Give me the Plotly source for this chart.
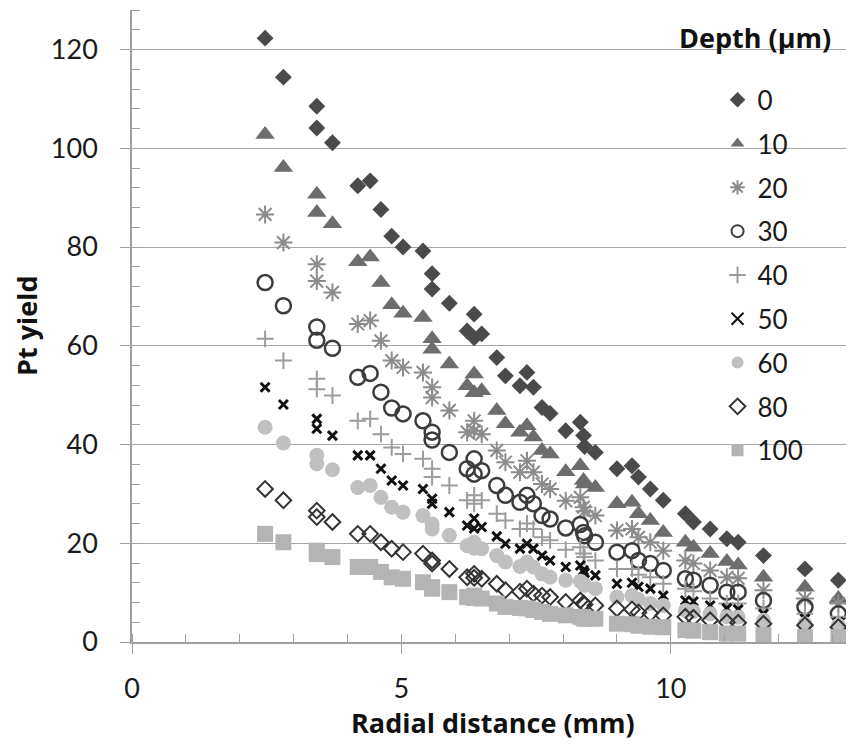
import plotly.graph_objects as go

# radial positions (mm), shared by every depth
radial_mm = [2.47, 2.81, 3.43, 3.43, 3.72, 4.19, 4.42, 4.62, 4.82, 5.03, 5.40, 5.57, 5.57, 5.89, 6.22,
             6.35, 6.35, 6.49, 6.77, 6.93, 7.20, 7.33, 7.45, 7.61, 7.76, 8.05, 8.32, 8.38, 8.40, 8.60,
             9.00, 9.28, 9.40, 9.62, 9.86, 10.27, 10.42, 10.73, 11.04, 11.25, 11.72, 12.49, 13.11]

depth_labels = ["0", "10", "20", "30", "40", "50", "60", "80", "100"]

yield_0 = [122.3, 114.4, 108.5, 104.1, 101.1, 92.4, 93.4, 87.6, 82.2, 80.0, 79.2, 74.6, 71.5, 68.6, 63.0,
           66.4, 61.6, 62.4, 57.6, 53.9, 51.9, 54.6, 51.6, 47.5, 46.3, 42.8, 44.5, 41.8, 39.6, 38.4,
           35.1, 35.7, 33.4, 31.0, 28.7, 26.0, 24.3, 22.9, 20.9, 20.2, 17.5, 14.8, 12.5]
yield_10 = [102.8, 96.1, 90.7, 87.0, 84.7, 77.0, 78.0, 72.8, 68.3, 66.6, 65.7, 61.4, 59.3, 56.3, 51.9,
            54.3, 50.5, 50.9, 46.9, 44.2, 42.5, 43.8, 41.5, 38.8, 38.1, 34.5, 35.7, 32.7, 32.0, 31.3,
            28.0, 28.3, 26.0, 24.6, 22.2, 20.2, 19.2, 17.9, 16.3, 15.6, 13.1, 11.1, 8.8]
yield_20 = [86.6, 80.9, 76.5, 73.1, 70.8, 64.4, 65.1, 61.0, 57.0, 55.6, 54.6, 51.6, 49.5, 46.9, 42.5,
            44.8, 42.8, 42.1, 38.8, 36.4, 34.4, 36.7, 34.4, 32.0, 31.0, 28.6, 29.3, 27.3, 26.5, 25.6,
            22.6, 22.9, 21.2, 20.2, 18.5, 16.5, 15.9, 14.5, 13.1, 12.9, 10.5, 8.8, 7.8]
yield_30 = [72.8, 68.1, 63.8, 61.1, 59.5, 53.6, 54.4, 50.6, 47.4, 46.2, 44.8, 42.5, 40.9, 38.4, 35.1,
            37.1, 34.0, 34.7, 31.7, 29.7, 28.3, 29.7, 28.0, 25.6, 24.9, 23.1, 23.8, 22.2, 21.5, 20.2,
            18.2, 18.5, 16.5, 15.9, 14.5, 12.8, 12.5, 11.5, 10.1, 10.1, 8.4, 7.1, 5.7]
yield_40 = [61.4, 57.0, 53.3, 51.2, 49.9, 44.8, 45.2, 42.1, 39.4, 38.1, 37.1, 35.1, 33.4, 31.7, 28.7,
            29.7, 28.0, 28.7, 26.0, 24.6, 22.9, 24.0, 22.9, 21.2, 20.6, 18.7, 19.2, 17.9, 17.2, 16.5,
            14.8, 14.8, 13.6, 13.1, 11.8, 10.8, 10.3, 8.8, 7.8, 7.8, 6.8, 5.7, 5.1]
yield_50 = [51.6, 48.1, 45.2, 43.2, 41.8, 37.8, 37.8, 35.1, 32.7, 31.7, 31.0, 29.0, 28.0, 26.3, 23.6,
            25.0, 23.0, 23.3, 21.4, 19.9, 18.9, 19.9, 18.9, 17.5, 16.5, 15.2, 15.5, 14.5, 14.0, 13.5,
            11.8, 12.0, 11.2, 10.8, 9.4, 8.4, 8.2, 7.4, 6.8, 6.6, 5.7, 4.7, 4.0]
yield_60 = [43.5, 40.3, 37.8, 36.1, 34.9, 31.3, 31.7, 29.3, 27.3, 26.3, 25.6, 23.9, 22.9, 21.6, 19.5,
            20.2, 19.0, 18.9, 17.5, 16.2, 15.3, 16.2, 15.2, 13.8, 13.1, 12.5, 12.3, 11.8, 11.5, 10.8,
            9.1, 9.4, 8.6, 7.8, 7.4, 6.4, 6.2, 5.7, 5.1, 5.0, 4.4, 3.7, 3.4]
yield_80 = [31.0, 28.7, 26.6, 25.3, 24.3, 21.9, 21.9, 20.2, 18.9, 18.2, 17.9, 16.5, 15.9, 14.8, 13.1,
            13.8, 13.0, 12.8, 11.8, 10.5, 10.2, 10.8, 9.8, 9.4, 9.1, 8.1, 8.4, 7.8, 7.6, 7.4,
            6.8, 6.6, 6.0, 5.8, 5.4, 5.1, 4.9, 4.4, 4.0, 3.9, 3.7, 3.4, 3.0]
yield_100 = [21.9, 20.2, 18.5, 17.8, 17.2, 15.2, 15.2, 14.2, 13.1, 12.8, 12.1, 11.1, 10.8, 10.1, 9.1,
             9.4, 8.9, 8.8, 7.8, 7.1, 6.9, 6.8, 6.5, 6.1, 5.7, 5.4, 5.1, 4.9, 4.7, 4.7,
             3.7, 3.6, 3.3, 3.1, 3.0, 2.4, 2.3, 2.0, 1.7, 1.7, 1.4, 1.0, 1.0]

series = [yield_0, yield_10, yield_20, yield_30, yield_40, yield_50, yield_60, yield_80, yield_100]

# marker look per depth: symbol, size, fill colour, outline colour, outline width
styles = [
    ("diamond", 13, "#4a4a4a", "#4a4a4a", 0),
    ("triangle-up", 17, "#6d6d6d", "#6d6d6d", 0),
    ("asterisk-open", 15, "#8c8c8c", "#8c8c8c", 2),
    ("circle-open", 15, "#3c3c3c", "#3c3c3c", 2.5),
    ("cross-thin-open", 12, "#9c9c9c", "#9c9c9c", 2),
    ("x-thin-open", 9, "#111111", "#111111", 3),
    ("circle", 15, "#c0c0c0", "#c0c0c0", 0),
    ("diamond-open", 12, "#333333", "#333333", 2),
    ("square", 16, "#b4b4b4", "#b4b4b4", 0),
]

fig = go.Figure()
for name, ys, (sym, size, fill, edge, lw) in zip(depth_labels, series, styles):
    fig.add_trace(go.Scatter(
        x=radial_mm, y=ys, mode="markers", name=name, legendgroup=name,
        marker=dict(symbol=sym, size=size, color=fill, line=dict(color=edge, width=lw))
    ))

axis_col = "#a0a0a0"
title_font = dict(family="Open Sans", size=27, color="#111111")
# the page body adds an 8px offset, so margins are shifted by that much
fig.update_layout(
    width=854, height=744,
    margin=dict(l=124, r=8, t=2, b=110),
    paper_bgcolor="white", plot_bgcolor="white",
    font=dict(family="Lato", size=27, color="#1a1a1a"),
    showlegend=True,
    legend=dict(
        x=0.811, xanchor="left", y=0.895, yanchor="top",
        bgcolor="rgba(0,0,0,0)", itemsizing="constant",
        tracegroupgap=7, font=dict(size=26)
    ),
    shapes=[dict(type="rect", xref="paper", yref="paper", x0=0.766, x1=0.988, y0=0.264, y1=0.992,
                 fillcolor="white", line=dict(width=0), layer="between")],
    annotations=[
        dict(text="<b>Depth (µm)</b>", xref="paper", yref="paper", x=0.863, y=0.956,
             xanchor="center", yanchor="middle", showarrow=False, font=title_font),
        dict(text="<b>Radial distance (mm)</b>", xref="paper", yref="paper", x=0.5, y=-0.127,
             xanchor="center", yanchor="middle", showarrow=False, font=title_font),
        dict(text="<b>Pt yield</b>", xref="paper", yref="paper", x=-0.1468, y=0.5, textangle=-90,
             xanchor="center", yanchor="middle", showarrow=False, font=title_font),
    ],
)
fig.update_xaxes(
    range=[0, 13.4], dtick=5, showgrid=False, zeroline=False, automargin=False,
    showline=True, linecolor=axis_col, linewidth=1.5,
    ticks="outside", ticklen=10, tickcolor=axis_col, ticklabelstandoff=12,
    minor=dict(dtick=1, ticks="inside", ticklen=8, tickcolor=axis_col)
)
fig.update_yaxes(
    range=[0, 128], dtick=20, showgrid=True, gridcolor="#a6a6a6", gridwidth=1, zeroline=False,
    automargin=False,
    showline=True, linecolor=axis_col, linewidth=1.5,
    ticks="outside", ticklen=10, tickcolor=axis_col, ticklabelstandoff=17,
    minor=dict(dtick=4, ticks="inside", ticklen=8, tickcolor=axis_col, showgrid=False)
)

fig.write_html("out.html")
